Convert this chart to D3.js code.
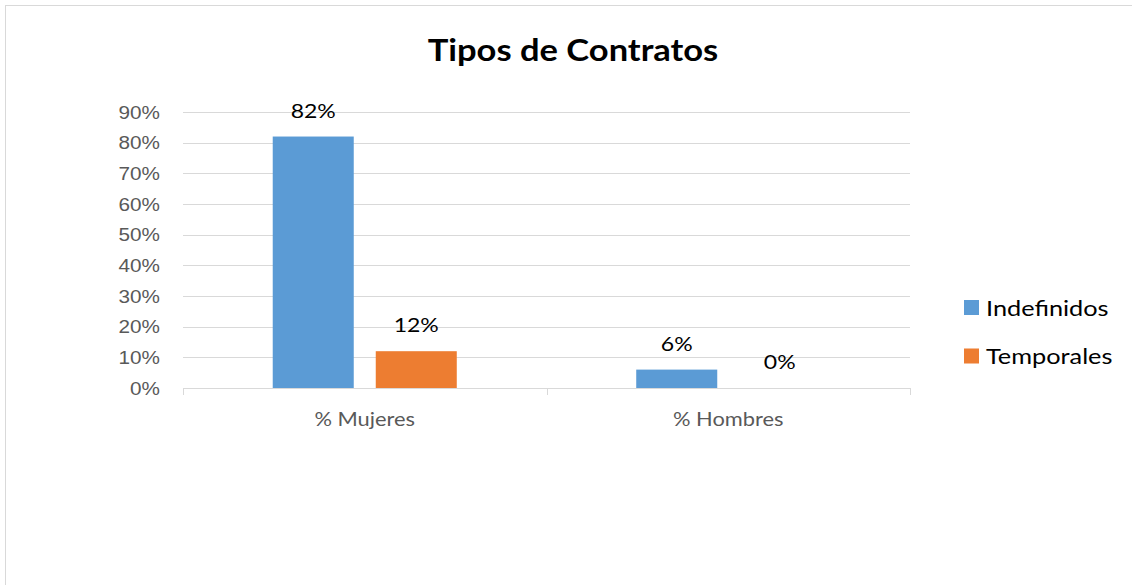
<!DOCTYPE html>
<html>
<head>
<meta charset="utf-8">
<title>Tipos de Contratos</title>
<script src="https://cdn.jsdelivr.net/npm/d3@7"></script>
<style>
body { margin: 0; background: #fff; }
svg { display: block; font-family: Lato, "Open Sans", sans-serif; }
.grid line { stroke: #d9d9d9; stroke-width: 1px; shape-rendering: crispEdges; }
.grid path { display: none; }
.y.axis path, .y.axis line { display: none; }
.y.axis text { fill: #595959; font-size: 18px; }
.x.axis line { stroke: #d9d9d9; shape-rendering: crispEdges; }
.x.axis text { fill: #595959; font-size: 19px; }
</style>
</head>
<body>
<script>
// chart data
var categories = ["% Mujeres", "% Hombres"];
var series = ["Indefinidos", "Temporales"];
var indefinidos = [0.82, 0.06];
var temporales = [0.12, 0.00];
var yTicks = [0, 0.1, 0.2, 0.3, 0.4, 0.5, 0.6, 0.7, 0.8, 0.9];
var colors = ["#5b9bd5", "#ed7d31"];

var values = [indefinidos, temporales];

var W = 1132, H = 585;
var margin = {top: 112, left: 183, right: 222, bottom: 197};
var width = W - margin.left - margin.right,
    height = H - margin.top - margin.bottom;

// the original text is a bit wider than Lato, stretch it horizontally
var stretch = 1.15;
function widen(sel) {
    sel.each(function() {
        var len = this.getComputedTextLength();
        d3.select(this)
            .attr("textLength", len * stretch)
            .attr("lengthAdjust", "spacingAndGlyphs");
    });
}

var svg = d3.select("body").append("svg")
    .attr("width", W)
    .attr("height", H);

// chart frame
svg.append("rect")
    .attr("x", 5.5).attr("y", 5.5)
    .attr("width", W + 20).attr("height", H + 20)
    .attr("fill", "#fff")
    .attr("stroke", "#d9d9d9");

svg.append("text")
    .attr("x", 573)
    .attr("y", 61)
    .attr("text-anchor", "middle")
    .style("font-size", "30px")
    .style("font-weight", "bold")
    .style("fill", "#000")
    .text("Tipos de Contratos")
    .call(widen);

var g = svg.append("g")
    .attr("transform", "translate(" + margin.left + "," + margin.top + ")");

var y = d3.scaleLinear().domain([0, 0.9]).range([height, 0]);
var x0 = d3.scaleBand().domain(categories).range([0, width]).padding(0);
var x1 = d3.scaleBand().domain(series).range([0, x0.bandwidth()])
    .paddingInner(0.2136).paddingOuter(0.871);

// gridlines
g.append("g")
    .attr("class", "grid")
    .call(d3.axisLeft(y).tickValues(yTicks).tickSize(-width).tickFormat(""));

g.append("g")
    .attr("class", "y axis")
    .attr("transform", "translate(-20,0)")
    .call(d3.axisLeft(y).tickValues(yTicks).tickSize(0).tickFormat(d3.format(".0%")))
    .selectAll("text").attr("dy", "0.35em").call(widen);

// category axis with ticks between groups
var xAxisG = g.append("g")
    .attr("class", "x axis")
    .attr("transform", "translate(0," + height + ")");
xAxisG.append("line")
    .attr("x1", 0).attr("x2", width).attr("y1", 0.5).attr("y2", 0.5);
xAxisG.selectAll(".sep")
    .data(d3.range(categories.length + 1))
    .enter().append("line")
    .attr("class", "sep")
    .attr("x1", function(i) { return Math.round(i * x0.step()) + 0.5; })
    .attr("x2", function(i) { return Math.round(i * x0.step()) + 0.5; })
    .attr("y1", 0).attr("y2", 7);
xAxisG.selectAll(".cat")
    .data(categories)
    .enter().append("text")
    .attr("class", "cat")
    .attr("x", function(d) { return x0(d) + x0.bandwidth() / 2; })
    .attr("y", 38)
    .attr("text-anchor", "middle")
    .text(function(d) { return d; })
    .call(widen);

// bars
var groups = g.selectAll(".group")
    .data(categories)
    .enter().append("g")
    .attr("class", "group")
    .attr("transform", function(d) { return "translate(" + x0(d) + ",0)"; });

function cells(d, ci) {
    return series.map(function(s, si) { return {s: s, si: si, v: values[si][ci]}; });
}

groups.selectAll("rect")
    .data(cells)
    .enter().append("rect")
    .attr("x", function(d) { return x1(d.s); })
    .attr("y", function(d) { return y(d.v); })
    .attr("width", x1.bandwidth())
    .attr("height", function(d) { return height - y(d.v); })
    .attr("fill", function(d) { return colors[d.si]; });

groups.selectAll(".lbl")
    .data(cells)
    .enter().append("text")
    .attr("class", "lbl")
    .attr("x", function(d) { return x1(d.s) + x1.bandwidth() / 2; })
    .attr("y", function(d) { return y(d.v) - 19; })
    .attr("text-anchor", "middle")
    .style("font-size", "20px")
    .style("fill", "#000")
    .text(function(d) { return d3.format(".0%")(d.v); })
    .call(widen);

// legend
var legend = svg.selectAll(".legend")
    .data(series)
    .enter().append("g")
    .attr("class", "legend")
    .attr("transform", function(d, i) { return "translate(964," + (300 + i * 48.5) + ")"; });

legend.append("rect")
    .attr("width", 15).attr("height", 15)
    .attr("fill", function(d, i) { return colors[i]; });

legend.append("text")
    .attr("x", 22)
    .attr("y", 8)
    .attr("dy", "0.35em")
    .style("font-size", "22px")
    .style("fill", "#000")
    .text(function(d) { return d; })
    .call(widen);
</script>
</body>
</html>
